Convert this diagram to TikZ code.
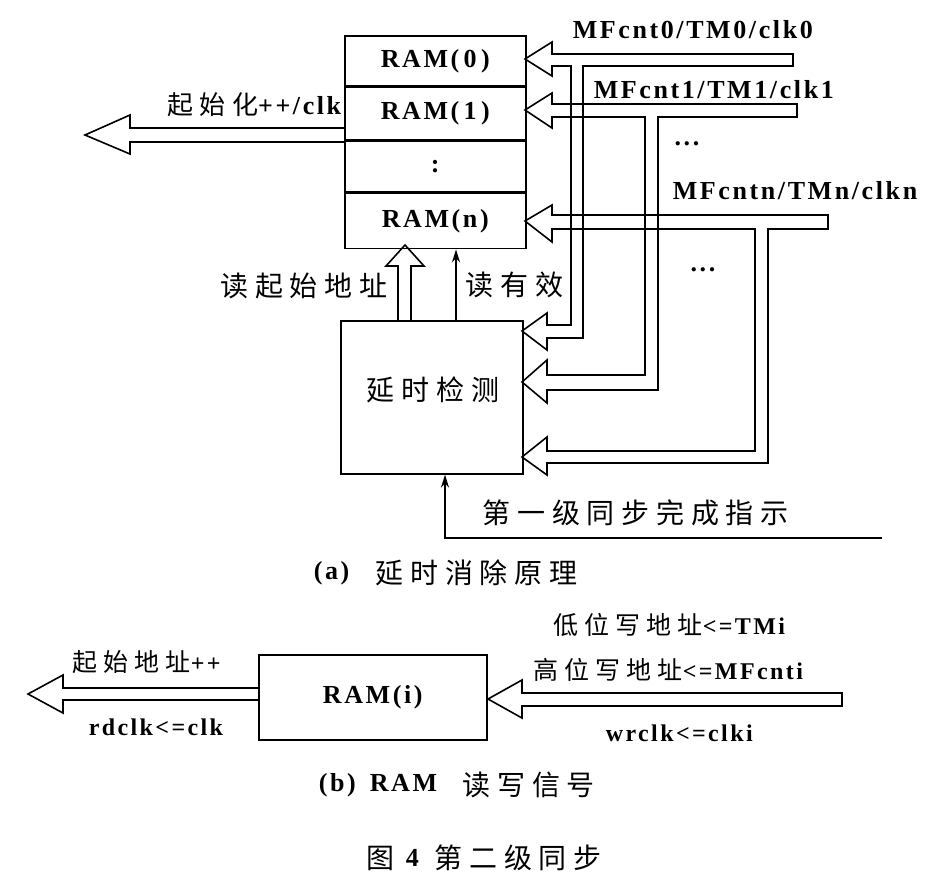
\documentclass[tikz,border=0pt]{standalone}
\usepackage{fontspec}
\setmainfont[LetterSpace=10]{Liberation Serif}
\newfontfamily\cjk[LetterSpace=24]{Noto Sans CJK SC}
\newcommand{\cjkm}{\mdseries\cjk}
\usetikzlibrary{arrows.meta}
\begin{document}
\begin{tikzpicture}[x=1pt,y=-1pt,line width=1.6pt,line join=miter,
  cell/.style={draw,minimum width=181pt,inner sep=0pt,font=\bfseries\fontsize{26}{28}\selectfont},
  blk/.style={draw,inner sep=0pt,font=\bfseries\fontsize{26}{28}\selectfont},
  lt/.style={inner sep=0pt,font=\bfseries\fontsize{26}{28}\selectfont},
  ls/.style={inner sep=0pt,font=\bfseries\fontsize{24}{26}\selectfont},
  ct/.style={inner sep=0pt,font=\cjkm\fontsize{28}{30}\selectfont},
  thin/.style={line width=1.6pt,-{Stealth[length=13pt,width=8pt]}}]
\useasboundingbox (0,0) rectangle (931,879);
% ---------- (a) ----------
\node[cell,minimum height=50pt,anchor=north west] (r0) at (344,35) {RAM(\,0\,)};
\node[cell,minimum height=52pt,anchor=north] (r1) at (r0.south) {RAM(\,1\,)};
\node[cell,minimum height=51pt,anchor=north] (rd) at (r1.south) {:};
\node[cell,minimum height=55pt,anchor=north] (rn) at (rd.south) {RAM(n)};
\node[blk,minimum width=182pt,minimum height=153pt,anchor=north west] (det) at (340,320) {};
\node[ct] (dettxt) at (433,390) {延时检测};
% signal 0
\draw (525,59) -- (552,42) -- (552,54) -- (793,54) -- (793,66) -- (583,66) -- (583,338)
  -- (547,338) -- (547,350) -- (522,331) -- (547,313) -- (547,325) -- (571,325)
  -- (571,66) -- (552,66) -- (552,76) -- cycle;
% signal 1
\draw (525,110) -- (552,93) -- (552,104) -- (797,104) -- (797,117) -- (658,117) -- (658,390)
  -- (547,390) -- (547,403) -- (522,382) -- (547,360) -- (547,375) -- (645,375)
  -- (645,117) -- (552,117) -- (552,128) -- cycle;
% signal n
\draw (525,221) -- (552,205) -- (552,215) -- (828,215) -- (828,229) -- (768,229) -- (768,463)
  -- (547,463) -- (547,475) -- (522,457) -- (547,437) -- (547,451) -- (755,451)
  -- (755,229) -- (552,229) -- (552,242) -- cycle;
% output of RAM stack
\draw (344,128) -- (130,128) -- (130,115) -- (85,135) -- (130,154) -- (130,142) -- (344,142);
% read start address (hollow up arrow)
\draw (398,320) -- (398,266) -- (386,266) -- (405,245) -- (424,266) -- (411,266) -- (411,320);
% read valid
\coordinate (rv) at (456,320);
\draw[thin] (rv) -- (rv |- rn.south);
% first-level sync done
\coordinate (fs) at (882,538);
\coordinate (fsc) at (445,538);
\draw[thin] (fs) -- (fsc) -- (fsc |- det.south);
% labels
\node[lt,anchor=east] at (342,105) {{\cjkm 起始化}++/clk};
\node[lt,anchor=west] at (572,30) {MFcnt0/TM0/clk0};
\node[lt,anchor=west] at (593,90) {MFcnt1/TM1/clk1};
\node[lt] at (687,144) {...};
\node[lt,anchor=west] at (672,191) {MFcntn/TMn/clkn};
\node[lt] at (703,270) {...};
\node[ct,anchor=east] at (388,286) {读起始地址};
\node[ct,anchor=west] at (465,285) {读有效};
\node[ct,anchor=west] at (482,513) {第一级同步完成指示};
\node[lt,anchor=west] at (313,573) {(a)};
\node[ct,anchor=west] at (375,573) {延时消除原理};
% ---------- (b) ----------
\node[blk,minimum width=228pt,minimum height=85pt,anchor=north west] (rami) at (258,654) {RAM(i)};
\draw (rami.west |- 0,688) -- (63,688) -- (63,675) -- (28,694) -- (63,713) -- (63,700) -- (rami.west |- 0,700);
\draw (488,699) -- (522,680) -- (522,693) -- (842,693) -- (842,706) -- (522,706) -- (522,718) -- cycle;
\node[ls,anchor=west] at (72,662) {{\cjkm\fontsize{25}{27}\selectfont 起始地址}++};
\node[ls,anchor=west] at (88,727) {rdclk<=clk};
\node[ls,anchor=west] at (553,625) {{\cjkm\fontsize{25}{27}\selectfont 低位写地址}<=TMi};
\node[ls,anchor=west] at (533,670) {{\cjkm\fontsize{25}{27}\selectfont 高位写地址}<=MFcnti};
\node[ls,anchor=west] at (605,733) {wrclk<=clki};
\node[lt,anchor=west] at (318,785) {(b)\hspace{14pt}RAM};
\node[ct,anchor=west] at (462,785) {读写信号};
\node[ct,anchor=west] at (366,858) {图};
\node[lt,anchor=west] at (405,858) {4};
\node[ct,anchor=west,font=\cjkm\fontsize{28}{30}\selectfont] at (434,858) {第二级同步};
\end{tikzpicture}
\end{document}
